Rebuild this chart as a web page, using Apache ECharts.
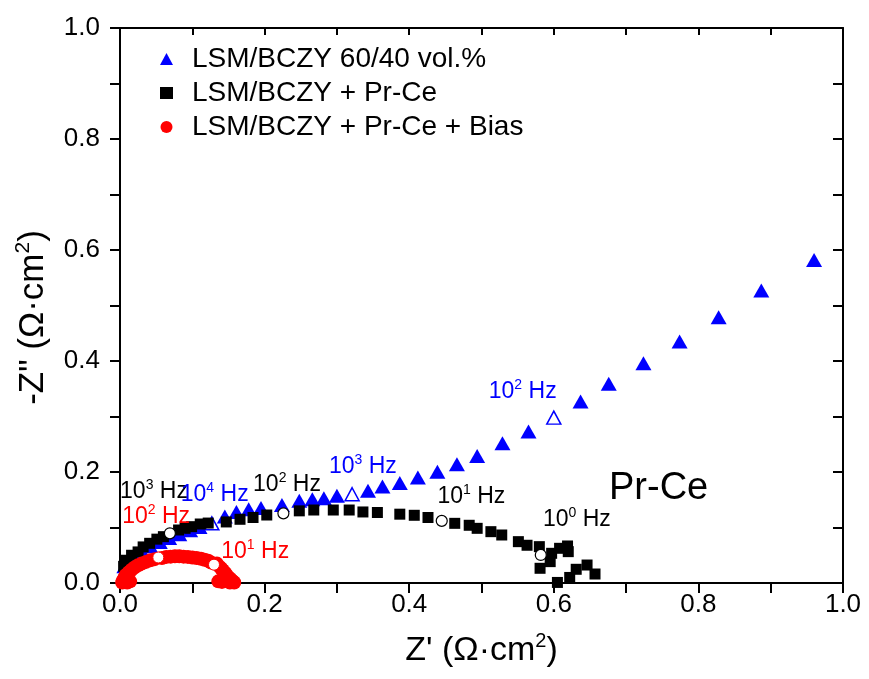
<!DOCTYPE html>
<html>
<head>
<meta charset="utf-8">
<script src="https://cdn.jsdelivr.net/npm/echarts@6/dist/echarts.min.js"></script>
<style>html,body{margin:0;padding:0;background:#fff;}#c{width:869px;height:679px;}</style>
</head>
<body>
<div id="c"></div>
<script>
// ---- data (Z' and -Z'' in ohm·cm2) ----
const seriesNames = ['LSM/BCZY 60/40 vol.%', 'LSM/BCZY + Pr-Ce', 'LSM/BCZY + Pr-Ce + Bias'];

const blueZre = [0.006,0.012,0.020,0.030,0.042,0.055,0.068,0.082,0.097,0.110,0.145,0.161,0.178,0.195,0.224,0.248,0.266,0.282,0.300,0.343,0.363,0.387,0.412,0.439,0.466,0.494,0.529,0.565,0.637,0.676,0.724,0.774,0.828,0.887,0.960];
const blueZim = [0.030,0.040,0.050,0.058,0.066,0.074,0.081,0.088,0.095,0.101,0.120,0.128,0.133,0.135,0.1405,0.148,0.151,0.1525,0.157,0.166,0.174,0.180,0.190,0.2005,0.214,0.229,0.252,0.273,0.327,0.359,0.396,0.435,0.479,0.527,0.582];
const blueMarkZre = [0.127,0.321,0.600];
const blueMarkZim = [0.1075,0.160,0.298];

const blackZre = [0.005,0.009,0.016,0.025,0.032,0.041,0.051,0.060,0.081,0.090,0.099,0.111,0.122,0.147,0.166,0.184,0.203,0.248,0.268,0.295,0.317,0.336,0.356,0.387,0.407,0.426,0.463,0.483,0.494,0.513,0.528,0.551,0.563,0.580,0.597,0.608,0.619,0.620,0.595,0.581,0.605,0.622,0.631,0.646,0.657];
const blackZim = [0.030,0.041,0.050,0.056,0.065,0.0715,0.079,0.0835,0.0955,0.0985,0.1015,0.1063,0.108,0.110,0.1148,0.118,0.1225,0.130,0.1315,0.1315,0.1315,0.128,0.127,0.124,0.122,0.118,0.1075,0.104,0.0985,0.0925,0.0865,0.0745,0.068,0.0655,0.0535,0.0625,0.0667,0.0565,0.0385,0.0265,0.001,0.010,0.0247,0.0324,0.0162];
const blackMarkZre = [0.069,0.226,0.445,0.582];
const blackMarkZim = [0.0895,0.1255,0.112,0.0505];

const redZre = [0.003,0.004,0.005,0.006,0.007,0.008,0.010,0.012,0.013,0.016,0.020,0.025,0.030,0.036,0.042,0.048,0.058,0.064,0.070,0.076,0.082,0.088,0.094,0.100,0.106,0.112,0.117,0.122,0.126,0.134,0.138,0.140,0.142,0.144,0.146,0.148,0.150,0.152,0.153,0.155,0.156,0.158,0.010,0.014,0.136,0.141,0.145,0.152];
const redZim = [0.001,0.004,0.006,0.009,0.011,0.014,0.016,0.019,0.020,0.024,0.028,0.032,0.035,0.038,0.041,0.043,0.045,0.047,0.0475,0.048,0.048,0.0475,0.047,0.046,0.045,0.0435,0.042,0.040,0.037,0.035,0.029,0.026,0.023,0.020,0.017,0.013,0.010,0.008,0.006,0.004,0.003,0.001,0.001,0.003,0.003,0.002,0.004,0.001];
const redMarkZre = [0.053,0.130];
const redMarkZim = [0.046,0.033];

// frequency annotations
const annoX = [0.047,0.131,0.050,0.187,0.231,0.336,0.486,0.632,0.557];
const annoY = [0.164,0.160,0.119,0.056,0.178,0.209,0.155,0.115,0.344];
const annoExp = ['3','4','2','1','2','3','1','0','2'];
const annoColor = ['k','b','r','r','k','b','k','k','b'];
const sampleLabel = 'Pr-Ce';
const sampleLabelPos = [0.745, 0.171];

// axis ticks
const axisMin = 0, axisMax = 1, axisStep = 0.1;

// ---- build ----
const zip = (a, b) => a.map((v, i) => [v, b[i]]);
const colors = {k: '#000000', b: '#0000ff', r: '#ff0000'};
const FONT = '"Liberation Sans", Arial, sans-serif';

const rich = {};
Object.keys(colors).forEach(k => {
  rich[k] = {color: colors[k], fontSize: 23, lineHeight: 27, fontFamily: FONT, textBorderWidth: 0};
  rich[k + 's'] = {color: colors[k], fontSize: 14, lineHeight: 14, verticalAlign: 'top', fontFamily: FONT, textBorderWidth: 0};
});

const annoData = annoX.map((x, i) => ({
  value: [x, annoY[i]],
  label: {formatter: '{' + annoColor[i] + '|10}{' + annoColor[i] + 's|' + annoExp[i] + '}{' + annoColor[i] + '| Hz}'}
}));

const tickFmt = v => (Math.round(v * 10) % 2 === 0 ? v.toFixed(1) : '');
const nameRich = {
  n: {fontSize: 34, lineHeight: 40, fontFamily: FONT, color: '#000'},
  s: {fontSize: 20, lineHeight: 20, verticalAlign: 'top', fontFamily: FONT, color: '#000'}
};
const nameRichY = {
  n: {fontSize: 35, lineHeight: 40, fontFamily: FONT, color: '#000'},
  s: {fontSize: 21, lineHeight: 21, verticalAlign: 'top', fontFamily: FONT, color: '#000'}
};

const baseAxis = {
  type: 'value', min: axisMin, max: axisMax, interval: axisStep,
  splitLine: {show: false},
  axisLine: {show: true, onZero: false, lineStyle: {color: '#000', width: 2}},
  axisTick: {show: true, inside: false, length: 10, lineStyle: {color: '#000', width: 2}},
  minorTick: {show: false}
};

const option = {
  backgroundColor: '#ffffff',
  animation: false,
  grid: {left: 120, right: 26, top: 28, bottom: 96, containLabel: false, outerBoundsMode: 'none'},
  legend: {
    orient: 'vertical', left: 155, top: 40,
    itemWidth: 13, itemHeight: 12, itemGap: 6,
    textStyle: {fontSize: 28, lineHeight: 28, color: '#000', fontFamily: FONT, padding: [0, 0, 0, 14]},
    data: [
      {name: seriesNames[0], icon: 'triangle'},
      {name: seriesNames[1], icon: 'rect'},
      {name: seriesNames[2], icon: 'circle'}
    ]
  },
  xAxis: [
    Object.assign({}, baseAxis, {
      position: 'bottom',
      name: '{n|Z\' (Ω·cm}{s|2}{n|)}', nameLocation: 'middle', nameGap: 48,
      nameTextStyle: {rich: nameRich},
      axisLabel: {show: true, margin: 9, fontSize: 26, color: '#000', fontFamily: FONT, formatter: tickFmt}
    }),
    Object.assign({}, baseAxis, {
      position: 'top',
      axisTick: {show: true, inside: true, length: 7, lineStyle: {color: '#000', width: 2}},
      axisLabel: {show: false}
    })
  ],
  yAxis: [
    Object.assign({}, baseAxis, {
      position: 'left',
      name: '{n|-Z" (Ω·cm}{s|2}{n|)}', nameLocation: 'middle', nameGap: 67, nameRotate: 90,
      nameTextStyle: {rich: nameRichY, padding: [0, 24, 0, 0]},
      axisLabel: {show: true, margin: 20, fontSize: 26, color: '#000', fontFamily: FONT, formatter: tickFmt}
    }),
    Object.assign({}, baseAxis, {
      position: 'right',
      axisTick: {show: true, inside: true, length: 10, lineStyle: {color: '#000', width: 2}},
      axisLabel: {show: false}
    })
  ],
  series: [
    {name: seriesNames[0], type: 'scatter', symbol: 'triangle', symbolSize: [16, 14],
     itemStyle: {color: '#0000ff', opacity: 1}, data: zip(blueZre, blueZim), z: 2},
    {name: seriesNames[0] + ' mark', type: 'scatter', symbol: 'triangle', symbolSize: [14, 13],
     itemStyle: {color: '#ffffff', borderColor: '#0000ff', borderWidth: 1.5, opacity: 1}, data: zip(blueMarkZre, blueMarkZim), z: 3},
    {name: seriesNames[1], type: 'scatter', symbol: 'rect', symbolSize: 11,
     itemStyle: {color: '#000000', opacity: 1}, data: zip(blackZre, blackZim), z: 4},
    {name: seriesNames[1] + ' mark', type: 'scatter', symbol: 'circle', symbolSize: 11,
     itemStyle: {color: '#ffffff', borderColor: '#000000', borderWidth: 1.2, opacity: 1}, data: zip(blackMarkZre, blackMarkZim), z: 5},
    {name: seriesNames[2], type: 'scatter', symbol: 'circle', symbolSize: 14,
     itemStyle: {color: '#ff0000', opacity: 1}, data: zip(redZre, redZim), z: 6},
    {name: seriesNames[2] + ' mark', type: 'scatter', symbol: 'circle', symbolSize: 11,
     itemStyle: {color: '#ffffff', borderColor: '#ff0000', borderWidth: 1, opacity: 1}, data: zip(redMarkZre, redMarkZim), z: 7},
    {name: 'annotations', type: 'scatter', symbolSize: 0, silent: true, z: 8,
     itemStyle: {opacity: 1},
     label: {show: true, position: 'inside', rich: rich, textBorderWidth: 0}, data: annoData},
    {name: 'sample', type: 'scatter', symbolSize: 0, silent: true, z: 8,
     itemStyle: {opacity: 1},
     label: {show: true, position: 'inside', formatter: sampleLabel, fontSize: 38, color: '#000', textBorderWidth: 0, fontFamily: FONT},
     data: [sampleLabelPos]}
  ]
};

const chart = echarts.init(document.getElementById('c'), null, {renderer: 'canvas'});
chart.setOption(option);
</script>
</body>
</html>
